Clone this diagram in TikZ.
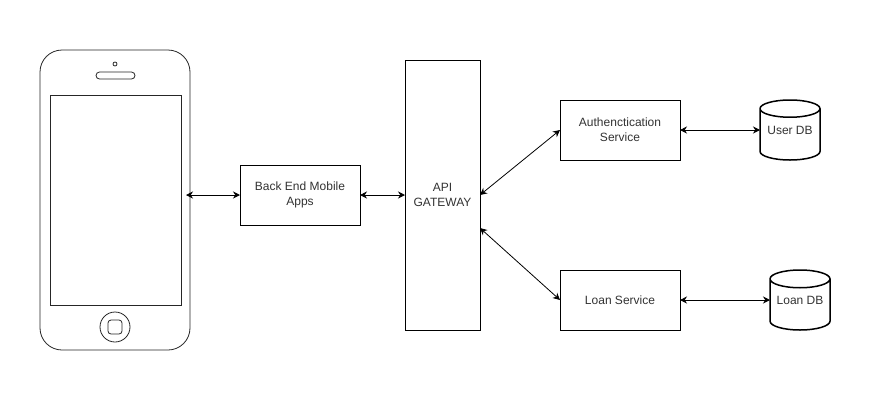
\documentclass[tikz,border=0pt]{standalone}
\usepackage{fontspec}
\setmainfont{Liberation Sans}
\usetikzlibrary{arrows.meta, positioning, shapes.geometric}
\definecolor{dbtext}{HTML}{333333}

\begin{document}
\begin{tikzpicture}[
    x=1pt, y=-1pt,
    line width=0.8pt,
    svc/.style={draw=black, fill=white, minimum width=120pt, minimum height=60pt,
                align=center, text=dbtext, outer sep=0pt, inner sep=0pt,
                font=\fontsize{12pt}{15pt}\selectfont},
    dbcyl/.style={draw=black, line width=1.5pt, cylinder, shape border rotate=90, aspect=0.38,
                  minimum width=60pt, minimum height=60pt, outer sep=0pt, inner sep=0pt,
                  anchor=shape center, font=\fontsize{12pt}{15pt}\selectfont},
    dbname/.style={text=dbtext, inner sep=0pt, font=\fontsize{12pt}{15pt}\selectfont},
    phonepart/.style={draw=black!85, fill=white},
    link/.style={black, {Stealth[length=7pt,width=7pt]}-{Stealth[length=7pt,width=7pt]}},
  ]
  \useasboundingbox (0,0) rectangle (873,413);

  % ===== phone =====
  \draw[phonepart, rounded corners=22pt] (40,50) rectangle (190,350);
  \draw[phonepart] (50,95) rectangle (181,305);
  \draw[phonepart] (115,64) circle (2pt);
  \draw[phonepart, rounded corners=3.5pt] (96,72) rectangle (135,79);
  \draw[phonepart] (115,327) circle (15pt);
  \draw[phonepart, rounded corners=3pt] (108,320) rectangle (122,334);
  \coordinate (phoneedge) at (186,195);

  % ===== services =====
  \node[svc] (backend) at (300,195) {Back End Mobile\\Apps};
  \node[svc, minimum width=75pt, minimum height=270pt] (gateway) at (442.5,195) {API\\GATEWAY};
  \node[svc] (auth) at (620,130) {Authenctication\\Service};
  \node[svc] (loan) at (620,300) {Loan Service};
  \coordinate (gatewaylow) at (480,228);

  % ===== databases =====
  \node[dbcyl] (userdb) at (790,130) {\phantom{User DB}};
  \node[dbname] (usertxt) at (userdb.shape center) {User DB};
  \node[dbcyl] (loandb) at (800,300) {\phantom{Loan DB}};
  \node[dbname] (loantxt) at (loandb.shape center) {Loan DB};

  % ===== links =====
  \draw[link] (phoneedge) -- (backend);
  \draw[link] (backend) -- (gateway);
  \draw[link] (gateway.east) -- (auth.west);
  \draw[link] (gatewaylow) -- (loan.west);
  \draw[link] (auth) -- (auth -| userdb.west);
  \draw[link] (loan) -- (loan -| loandb.west);
\end{tikzpicture}
\end{document}
